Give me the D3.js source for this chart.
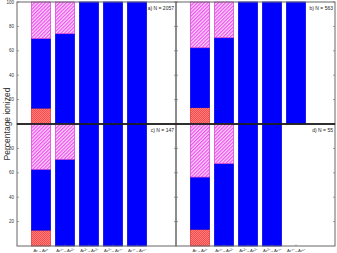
<!DOCTYPE html>
<html>
<head>
<meta charset="utf-8">
<script src="https://cdn.jsdelivr.net/npm/d3@7"></script>
<style>
  body { margin: 0; background: #fff; }
  text { font-family: "Liberation Sans", Arial, sans-serif; }
</style>
</head>
<body>
<div id="chart"></div>
<script>
// categories along x
var categories = ["Ar→Ar¹⁺", "Ar¹⁺→Ar²⁺", "Ar²⁺→Ar³⁺", "Ar³⁺→Ar⁴⁺", "Ar⁴⁺→Ar⁵⁺"];
var panelLabels = ["a) N = 2057", "b) N = 563", "c) N = 147", "d) N = 55"];

// stacked segments per panel (percent), bottom to top
var redPart = [
  [13, 0, 0, 0, 0],
  [13.4, 0, 0, 0, 0],
  [13, 0, 0, 0, 0],
  [13.7, 0, 0, 0, 0]
];
var bluePart = [
  [57, 74, 100, 100, 100],
  [49.1, 70.7, 100, 100, 100],
  [49.8, 71, 100, 100, 100],
  [42.8, 67.5, 100, 100, 0]
];
var hatchPart = [
  [30, 26, 0, 0, 0],
  [37.5, 29.3, 0, 0, 0],
  [37.2, 29, 0, 0, 0],
  [43.5, 32.5, 0, 0, 0]
];
var yTicksTop = [20, 40, 60, 80, 100];
var yTicksBottom = [20, 40, 60, 80];

var width = 337, height = 253;
var panelW = 159, panelH = 122;
var marginLeft = 17, marginTop = 2;

var svg = d3.select("#chart").append("svg")
  .attr("width", width)
  .attr("height", height);

var defs = svg.append("defs");

// pink diagonal hatch
var hatch = defs.append("pattern")
  .attr("id", "hatch")
  .attr("patternUnits", "userSpaceOnUse")
  .attr("width", 2.5).attr("height", 2.5)
  .attr("patternTransform", "rotate(45)");
hatch.append("rect").attr("width", 2.5).attr("height", 2.5).attr("fill", "#fbe0fb");
hatch.append("rect").attr("width", 1.3).attr("height", 2.5).attr("fill", "#f050f0");

// red checker fill
var check = defs.append("pattern")
  .attr("id", "check")
  .attr("patternUnits", "userSpaceOnUse")
  .attr("width", 2).attr("height", 2);
check.append("rect").attr("width", 2).attr("height", 2).attr("fill", "#ff4848");
check.append("rect").attr("width", 1).attr("height", 1).attr("fill", "#ff8080");
check.append("rect").attr("x", 1).attr("y", 1).attr("width", 1).attr("height", 1).attr("fill", "#ff8080");

var series = [
  { key: "red", data: redPart, fill: "url(#check)", stroke: "#e03030" },
  { key: "blue", data: bluePart, fill: "#0000ff", stroke: "#0000e0" },
  { key: "hatch", data: hatchPart, fill: "url(#hatch)", stroke: "#d040d0" }
];

var y = d3.scaleLinear().domain([0, 100]);

panelLabels.forEach(function (label, p) {
  var col = p % 2, row = Math.floor(p / 2);
  var x0 = marginLeft + col * panelW, y0 = marginTop + row * panelH;

  var x = d3.scaleLinear().domain([0, 6.625]).range([0, panelW]);
  var yy = y.copy().range([panelH, 0]);

  var g = svg.append("g").attr("transform", "translate(" + x0 + "," + y0 + ")");

  // stack the three parts
  var rows = categories.map(function (c, i) {
    var o = { idx: i + 1 };
    series.forEach(function (s) { o[s.key] = s.data[p][i]; });
    return o;
  });
  var stacked = d3.stack().keys(series.map(function (s) { return s.key; }))(rows);

  stacked.forEach(function (layer, li) {
    g.append("g")
      .selectAll("rect")
      .data(layer.filter(function (d) { return d[1] - d[0] > 0; }))
      .join("rect")
      .attr("x", function (d) { return x(d.data.idx - 0.4); })
      .attr("width", x(0.8) - x(0))
      .attr("y", function (d) { return yy(d[1]); })
      .attr("height", function (d) { return yy(d[0]) - yy(d[1]); })
      .attr("fill", series[li].fill)
      .attr("stroke", series[li].stroke)
      .attr("stroke-width", 0.7);
  });

  // frame
  g.append("rect")
    .attr("width", panelW).attr("height", panelH)
    .attr("fill", "none").attr("stroke", "#666").attr("stroke-width", 1);

  // inward ticks, left and right
  var ticks = row === 0 ? yTicksTop : yTicksBottom;
  g.append("g").selectAll("line").data(ticks).join("line")
    .attr("x1", 0).attr("x2", 2)
    .attr("y1", function (d) { return yy(d); }).attr("y2", function (d) { return yy(d); })
    .attr("stroke", "#666").attr("stroke-width", 0.6);
  g.append("g").selectAll("line").data(ticks).join("line")
    .attr("x1", panelW - 2).attr("x2", panelW)
    .attr("y1", function (d) { return yy(d); }).attr("y2", function (d) { return yy(d); })
    .attr("stroke", "#666").attr("stroke-width", 0.6);

  // x ticks at bar centres
  g.append("g").selectAll("line").data(categories).join("line")
    .attr("x1", function (d, i) { return x(i + 1); })
    .attr("x2", function (d, i) { return x(i + 1); })
    .attr("y1", panelH - 1.5).attr("y2", panelH)
    .attr("stroke", "#666").attr("stroke-width", 0.6);

  if (col === 0) {
    g.append("g").selectAll("text").data(ticks).join("text")
      .attr("x", -3)
      .attr("y", function (d) { return yy(d); })
      .attr("dy", "0.35em")
      .attr("text-anchor", "end")
      .attr("font-size", 4.5)
      .attr("fill", "#333")
      .text(function (d) { return d; });
  }

  if (row === 1) {
    g.append("g").selectAll("text").data(categories).join("text")
      .attr("x", function (d, i) { return x(i + 1); })
      .attr("y", panelH + 6)
      .attr("text-anchor", "middle")
      .attr("font-size", 4.2)
      .attr("fill", "#333")
      .text(function (d) { return d; });
  }

  g.append("text")
    .attr("x", panelW - 2)
    .attr("y", 8)
    .attr("text-anchor", "end")
    .attr("font-size", 5)
    .attr("fill", "#222")
    .text(label);
});

// dark separator between the rows
svg.append("line")
  .attr("x1", marginLeft).attr("x2", marginLeft + 2 * panelW)
  .attr("y1", marginTop + panelH).attr("y2", marginTop + panelH)
  .attr("stroke", "#111").attr("stroke-width", 1.3);

svg.append("text")
  .attr("transform", "translate(9.5," + (marginTop + panelH) + ") rotate(-90)")
  .attr("text-anchor", "middle")
  .attr("font-size", 8.5)
  .attr("fill", "#333")
  .text("Percentage ionized");
</script>
</body>
</html>
